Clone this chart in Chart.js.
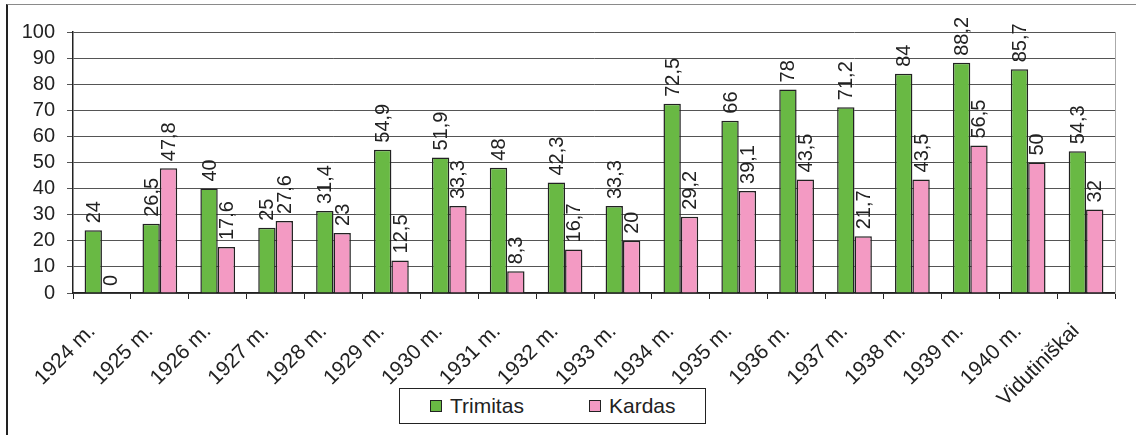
<!DOCTYPE html>
<html lang="lt">
<head>
    <meta charset="UTF-8">
    <title>Trimitas ir Kardas</title>
    <style>
        body {
            margin: 0;
            background: white;
            font-family: "Liberation Sans", Arial, sans-serif;
        }

        #frame {
            position: absolute;
            left: 6px;
            top: 4px;
            width: 1200px;
            height: 500px;
            border-top: 1px solid #8a8a8a;
            border-left: 2px solid #222;
        }

        #wrap {
            position: absolute;
            left: 0;
            top: 0;
            width: 1136px;
            height: 435px;
        }

        #legend {
            position: absolute;
            left: 399px;
            top: 388px;
            width: 305px;
            height: 34px;
            border: 1px solid #222;
            background: white;
        }

        .item {
            position: absolute;
            top: 0;
            height: 34px;
            display: flex;
            align-items: center;
            font-size: 21px;
            color: #222;
        }

        .box {
            width: 10px;
            height: 10px;
            border: 1px solid #222;
            margin-right: 8px;
        }
    </style>
    <script src="https://cdn.jsdelivr.net/npm/chart.js"></script>
</head>
<body>
    <div id="frame"></div>
    <div id="wrap">
        <canvas id="chart" width="1136" height="435"></canvas>
    </div>
    <div id="legend"></div>
    <script>
        const years = ['1924 m.', '1925 m.', '1926 m.', '1927 m.', '1928 m.', '1929 m.', '1930 m.', '1931 m.', '1932 m.',
            '1933 m.', '1934 m.', '1935 m.', '1936 m.', '1937 m.', '1938 m.', '1939 m.', '1940 m.', 'Vidutiniškai'];
        const trimitas = [24, 26.5, 40, 25, 31.4, 54.9, 51.9, 48, 42.3, 33.3, 72.5, 66, 78, 71.2, 84, 88.2, 85.7, 54.3];
        const kardas = [0, 47.8, 17.6, 27.6, 23, 12.5, 33.3, 8.3, 16.7, 20, 29.2, 39.1, 43.5, 21.7, 43.5, 56.5, 50, 32];
        const yTicks = [0, 10, 20, 30, 40, 50, 60, 70, 80, 90, 100];

        const fontName = '"Liberation Sans", Arial, sans-serif';
        const textColor = '#222';

        // value labels, written upwards above each bar
        const barLabels = {
            id: 'barLabels',
            afterDatasetsDraw(chart) {
                const ctx = chart.ctx;
                ctx.save();
                ctx.font = '20px ' + fontName;
                ctx.fillStyle = textColor;
                ctx.textAlign = 'left';
                ctx.textBaseline = 'middle';
                chart.data.datasets.forEach((ds, i) => {
                    chart.getDatasetMeta(i).data.forEach((bar, j) => {
                        const txt = String(ds.data[j]).replace('.', ',');
                        ctx.save();
                        ctx.translate(bar.x, bar.y - 7);
                        ctx.rotate(-Math.PI / 2);
                        ctx.fillText(txt, 0, 1);
                        ctx.restore();
                    });
                });
                ctx.restore();
            }
        };

        const chart = new Chart(document.getElementById('chart'), {
            type: 'bar',
            data: {
                labels: years,
                datasets: [{
                    label: 'Trimitas',
                    data: trimitas,
                    backgroundColor: '#69b944',
                    borderColor: '#222',
                    borderWidth: 1.5
                }, {
                    label: 'Kardas',
                    data: kardas,
                    backgroundColor: '#f39ac3',
                    borderColor: '#222',
                    borderWidth: 1.5
                }]
            },
            options: {
                responsive: false,
                animation: false,
                categoryPercentage: 0.6,
                barPercentage: 1.0,
                layout: {
                    padding: { top: 32, right: 21, left: 0, bottom: 0 }
                },
                scales: {
                    x: {
                        grid: {
                            offset: true,
                            drawOnChartArea: false,
                            tickLength: 6,
                            color: '#222'
                        },
                        border: { color: '#222', width: 1.5 },
                        ticks: {
                            autoSkip: false,
                            minRotation: 45,
                            maxRotation: 45,
                            padding: 20,
                            labelOffset: -10,
                            color: textColor,
                            font: { family: fontName, size: 21 }
                        },
                        afterFit: s => { s.height = 142; }
                    },
                    y: {
                        min: 0,
                        max: 100,
                        afterBuildTicks: s => { s.ticks = yTicks.map(v => ({ value: v })); },
                        grid: {
                            color: '#555',
                            tickLength: 6
                        },
                        border: { color: '#222', width: 1.5 },
                        ticks: {
                            autoSkip: false,
                            padding: 12,
                            color: textColor,
                            font: { family: fontName, size: 20 }
                        },
                        afterFit: s => { s.width = 73; }
                    },
                    y2: {
                        position: 'right',
                        min: 0,
                        max: 100,
                        grid: { display: false },
                        ticks: { display: false },
                        border: { color: '#aaa' },
                        afterFit: s => { s.width = 0; }
                    }
                },
                plugins: {
                    legend: { display: false },
                    tooltip: { enabled: false }
                }
            },
            plugins: [barLabels]
        });

        // legend built from the datasets
        const lefts = [30, 189];
        const legend = document.getElementById('legend');
        chart.data.datasets.forEach((ds, i) => {
            const item = document.createElement('div');
            item.className = 'item';
            item.style.left = lefts[i] + 'px';
            const box = document.createElement('span');
            box.className = 'box';
            box.style.background = ds.backgroundColor;
            item.appendChild(box);
            item.appendChild(document.createTextNode(ds.label));
            legend.appendChild(item);
        });
    </script>
</body>
</html>
